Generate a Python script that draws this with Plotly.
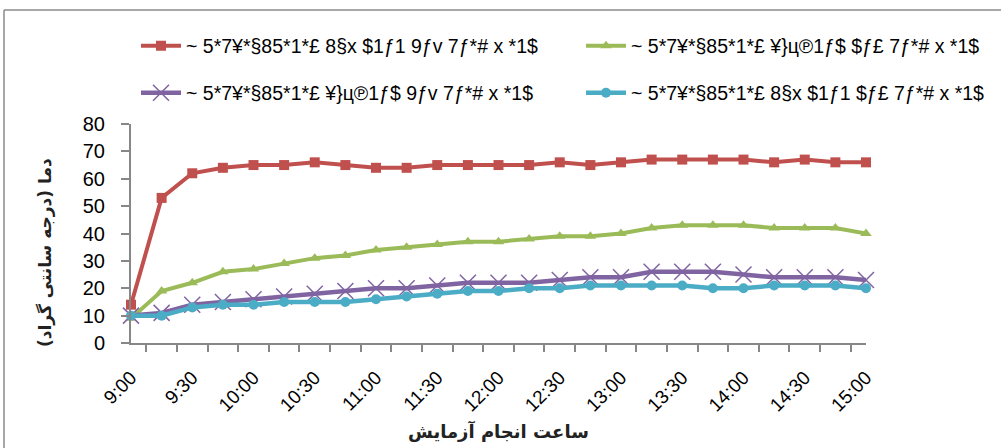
import plotly.graph_objects as go

times = ["9:00", "9:15", "9:30", "9:45", "10:00", "10:15", "10:30", "10:45", "11:00",
         "11:15", "11:30", "11:45", "12:00", "12:15", "12:30", "12:45", "13:00",
         "13:15", "13:30", "13:45", "14:00", "14:15", "14:30", "14:45", "15:00"]

red_vals = [14, 53, 62, 64, 65, 65, 66, 65, 64, 64, 65, 65, 65, 65, 66, 65, 66, 67, 67, 67, 67, 66, 67, 66, 66]
green_vals = [9, 19, 22, 26, 27, 29, 31, 32, 34, 35, 36, 37, 37, 38, 39, 39, 40, 42, 43, 43, 43, 42, 42, 42, 40]
purple_vals = [10, 11, 14, 15, 16, 17, 18, 19, 20, 20, 21, 22, 22, 22, 23, 24, 24, 26, 26, 26, 25, 24, 24, 24, 23]
cyan_vals = [10, 10, 13, 14, 14, 15, 15, 15, 16, 17, 18, 19, 19, 20, 20, 21, 21, 21, 21, 20, 20, 21, 21, 21, 20]

names = [
    "~ 5*7¥*§85*1*£ 8§x $1ƒ1 9ƒv 7ƒ*# x *1$",
    "~ 5*7¥*§85*1*£ ¥}ц℗1ƒ$ $ƒ£ 7ƒ*# x *1$",
    "~ 5*7¥*§85*1*£ ¥}ц℗1ƒ$ 9ƒv 7ƒ*# x *1$",
    "~ 5*7¥*§85*1*£ 8§x $1ƒ1 $ƒ£ 7ƒ*# x *1$",
]

y_title = "دما (درجه سانتی گراد)"
x_title = "ساعت انجام آزمایش"

W, H = 1001, 448
L, R, T, B = 131, 866, 124, 343  # plot area in pixels

def px_x(p):
    return (p - L) / (R - L)

def px_y(p):
    return (B - p) / (B - T)

idx = list(range(len(times)))

fig = go.Figure()
fig.add_trace(go.Scatter(x=idx, y=red_vals, name=names[0], mode="lines+markers",
                         line=dict(color="#C0504D", width=4),
                         marker=dict(symbol="square", size=10, color="#C0504D"),
                         cliponaxis=False, legend="legend"))
fig.add_trace(go.Scatter(x=idx, y=green_vals, name=names[1], mode="lines+markers",
                         line=dict(color="#9BBB59", width=4),
                         marker=dict(symbol="triangle-up", size=10, color="#9BBB59"),
                         cliponaxis=False, legend="legend2"))
fig.add_trace(go.Scatter(x=idx, y=purple_vals, name=names[2], mode="lines+markers",
                         line=dict(color="#8064A2", width=4.5),
                         marker=dict(symbol="x-thin", size=16, color="#8064A2",
                                     line=dict(color="#8064A2", width=1.5)),
                         cliponaxis=False, legend="legend3"))
fig.add_trace(go.Scatter(x=idx, y=cyan_vals, name=names[3], mode="lines+markers",
                         line=dict(color="#4BACC6", width=4.5),
                         marker=dict(symbol="circle", size=10, color="#4BACC6"),
                         cliponaxis=False, legend="legend4"))

axis_color = "#878787"
tick_font = dict(family="Liberation Sans, Arial, sans-serif", size=20, color="#000000")

fig.update_xaxes(
    range=[0, len(times) - 1],
    tickmode="array",
    tickvals=idx[::2],
    ticktext=times[::2],
    tickangle=-45,
    ticks="",
    showline=True, linecolor=axis_color, linewidth=2,
    showgrid=False, zeroline=False,
    tickfont=dict(family="Liberation Sans, Arial, sans-serif", size=19, color="#000000"),
    ticklabelstandoff=14,
    minor=dict(tick0=0.5, dtick=1, ticks="outside", ticklen=7, tickcolor=axis_color,
               tickwidth=1.5, showgrid=False),
)
fig.update_yaxes(
    range=[0, 80], dtick=10,
    ticks="outside", ticklen=8, tickcolor=axis_color, tickwidth=1.5,
    showline=True, linecolor=axis_color, linewidth=2,
    showgrid=False, zeroline=False,
    tickfont=tick_font,
    ticklabelstandoff=12,
)

legend_font = dict(family="Liberation Sans, Arial, sans-serif", size=19.5, color="#000000")

def leg(xp, yp):
    return dict(orientation="h", x=px_x(xp), xanchor="left", y=px_y(yp), yanchor="middle",
                font=legend_font, bgcolor="rgba(0,0,0,0)", itemwidth=40)

fig.update_layout(
    width=W, height=H,
    margin=dict(l=L, r=W - R, t=T, b=H - B, autoexpand=False),
    paper_bgcolor="white", plot_bgcolor="white",
    legend=leg(136, 46),
    legend2=leg(581, 46),
    legend3=leg(136, 93),
    legend4=leg(581, 93),
    showlegend=True,
)

fig.add_annotation(text="<b>" + y_title + "</b>", textangle=-90, xref="paper", yref="paper",
                   x=px_x(45), y=px_y(253), showarrow=False,
                   font=dict(family="DejaVu Sans, sans-serif", size=17, color="#222222"),
                   xanchor="center", yanchor="middle")
fig.add_annotation(text="<b>" + x_title + "</b>", xref="paper", yref="paper",
                   x=px_x(498), y=px_y(431), showarrow=False,
                   font=dict(family="DejaVu Sans, sans-serif", size=18, color="#222222"),
                   xanchor="center", yanchor="middle")

# outer chart frame
fig.add_shape(type="line", xref="paper", yref="paper",
              x0=px_x(4), x1=px_x(1001), y0=px_y(10), y1=px_y(10),
              line=dict(color="#8a8a8a", width=1.5))
fig.add_shape(type="line", xref="paper", yref="paper",
              x0=px_x(4), x1=px_x(4), y0=px_y(10), y1=px_y(448),
              line=dict(color="#8a8a8a", width=1.5))

fig.write_html("out.html", config={"displayModeBar": False},
               post_script="document.body.style.margin='0';document.body.style.overflow='hidden';")
